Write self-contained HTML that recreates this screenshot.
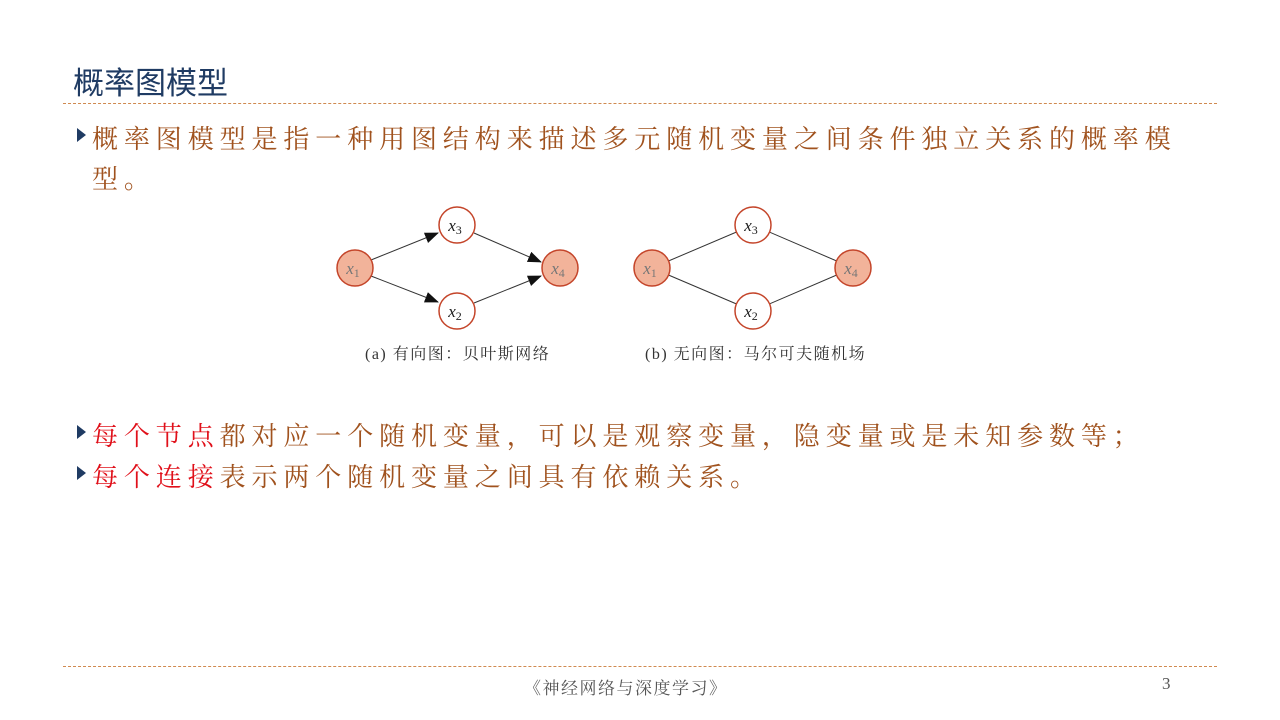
<!DOCTYPE html>
<html><head><meta charset="utf-8"><style>
body{margin:0;width:1280px;height:720px;background:#fff;position:relative;overflow:hidden;font-family:"Liberation Serif","Noto Serif CJK SC",serif}
.t{position:absolute;left:73px;top:58px;font-family:"Liberation Sans","Noto Sans CJK SC",sans-serif;font-size:31px;color:#1f3b63}
.hl{position:absolute;left:63px;width:1154px;border-top:1px dashed #d08a50}
.p{position:absolute;left:92px;font-size:26px;color:#a0521e;letter-spacing:5.9px;white-space:nowrap}
.r{color:#e0101a}
.b{position:absolute;left:77px;width:0;height:0;border-top:7px solid transparent;border-bottom:7px solid transparent;border-left:9px solid #1f3b63}
.f{position:absolute;top:674px;font-size:17px;color:#555}
</style></head><body>
<div class="t">概率图模型</div>
<div class="hl" style="top:103px"></div>
<div class="b" style="top:128px"></div>
<div class="p" style="top:119px">概率图模型是指一种用图结构来描述多元随机变量之间条件独立关系的概率模</div>
<div class="p" style="top:159px">型。</div>
<svg style="position:absolute;left:0;top:0" width="1280" height="400">
<defs><marker id="a" markerWidth="14" markerHeight="11" refX="13" refY="5.5" orient="auto" markerUnits="userSpaceOnUse"><path d="M0,0L14,5.5L0,11z" fill="#111"/></marker></defs>
<g stroke="#333" stroke-width="1">
<line x1="371" y1="260" x2="438" y2="233" marker-end="url(#a)"/>
<line x1="371" y1="276" x2="438" y2="302" marker-end="url(#a)"/>
<line x1="474" y1="233" x2="541" y2="262" marker-end="url(#a)"/>
<line x1="474" y1="303" x2="541" y2="276" marker-end="url(#a)"/>
<line x1="652" y1="268" x2="753" y2="225"/><line x1="652" y1="268" x2="753" y2="311"/>
<line x1="753" y1="225" x2="853" y2="268"/><line x1="753" y1="311" x2="853" y2="268"/>
</g>
<g stroke="#c4452a" stroke-width="1.5">
<circle cx="355" cy="268" r="18" fill="#f2b39a"/><circle cx="560" cy="268" r="18" fill="#f2b39a"/>
<circle cx="457" cy="225" r="18" fill="#fff"/><circle cx="457" cy="311" r="18" fill="#fff"/>
<circle cx="652" cy="268" r="18" fill="#f2b39a"/><circle cx="853" cy="268" r="18" fill="#f2b39a"/>
<circle cx="753" cy="225" r="18" fill="#fff"/><circle cx="753" cy="311" r="18" fill="#fff"/>
</g>
<g font-family="Liberation Serif,serif" font-style="italic" font-size="17" text-anchor="middle">
<text x="353" y="274" fill="#777">x<tspan font-style="normal" font-size="12" dy="3">1</tspan></text>
<text x="558" y="274" fill="#777">x<tspan font-style="normal" font-size="12" dy="3">4</tspan></text>
<text x="455" y="231" fill="#222">x<tspan font-style="normal" font-size="12" dy="3">3</tspan></text>
<text x="455" y="317" fill="#222">x<tspan font-style="normal" font-size="12" dy="3">2</tspan></text>
<text x="650" y="274" fill="#777">x<tspan font-style="normal" font-size="12" dy="3">1</tspan></text>
<text x="851" y="274" fill="#777">x<tspan font-style="normal" font-size="12" dy="3">4</tspan></text>
<text x="751" y="231" fill="#222">x<tspan font-style="normal" font-size="12" dy="3">3</tspan></text>
<text x="751" y="317" fill="#222">x<tspan font-style="normal" font-size="12" dy="3">2</tspan></text>
</g>
<g font-family="Liberation Serif,Noto Serif CJK SC,serif" font-size="16" fill="#333" letter-spacing="1.5">
<text x="365" y="359">(a) 有向图：贝叶斯网络</text>
<text x="645" y="359">(b) 无向图：马尔可夫随机场</text>
</g>
</svg>
<div class="b" style="top:425px"></div>
<div class="p" style="top:416px"><span class="r">每个节点</span>都对应一个随机变量，可以是观察变量，隐变量或是未知参数等；</div>
<div class="b" style="top:466px"></div>
<div class="p" style="top:457px"><span class="r">每个连接</span>表示两个随机变量之间具有依赖关系。</div>
<div class="hl" style="top:666px"></div>
<div class="f" style="left:524px;letter-spacing:1.5px">《神经网络与深度学习》</div>
<div class="f" style="left:1162px">3</div>
</body></html>
